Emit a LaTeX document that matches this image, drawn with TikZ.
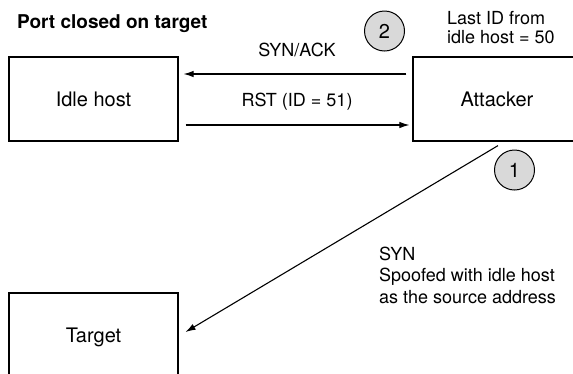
\documentclass[tikz,border=0pt]{standalone}
\usepackage{fontspec}
\setmainfont{TeX Gyre Heros}
\usetikzlibrary{arrows.meta}
\begin{document}
\begin{tikzpicture}[x=1pt,y=-1pt,
  box/.style={draw,line width=1.2pt,minimum width=169pt,inner sep=0pt,font=\fontsize{20}{24}\selectfont},
  arr/.style={line width=1.1pt,-{Latex[length=10pt,width=6.5pt]}},
  lbl/.style={font=\fontsize{18}{21.5}\selectfont,inner sep=0pt},
  num/.style={circle,draw,line width=1pt,fill=gray!30,minimum size=40pt,inner sep=0pt,font=\fontsize{20}{24}\selectfont}]
\useasboundingbox (0,0) rectangle (573,373);
\node[font=\bfseries\fontsize{19}{22}\selectfont,anchor=base west,inner sep=0pt] (title) at (17,28) {Port closed on target};
\node[box,minimum height=84pt] (idle) at (93.5,99) {Idle host};
\node[box,minimum width=168pt,minimum height=84pt] (att) at (497,99) {Attacker};
\node[box,minimum height=88pt] (tgt) at (93.5,337) {Target};
\node[num] (n2) at (384.5,31) {2};
\node[num] (n1) at (514.5,170) {1};
\node[lbl,anchor=center] (synack) at (297,50) {SYN/ACK};
\node[lbl,anchor=center] (rst) at (297,102) {RST (ID = 51)};
\node[lbl,anchor=base west,align=left] (last) at (447,43) {Last ID from\\[-2.5pt]idle host = 50};
\node[lbl,anchor=base west,align=left] (syn) at (379,303) {SYN\\Spoofed with idle host\\as the source address};
\draw[arr] ([xshift=-6pt,yshift=25pt]att.west) -- ([xshift=5pt,yshift=25pt]idle.east);
\draw[arr] ([xshift=7pt,yshift=-26pt]idle.east) -- ([xshift=-3pt,yshift=-26pt]att.west);
\draw[arr] ([shift={(1pt,-4pt)}]att.south) -- ([shift={(7pt,5pt)}]tgt.east);
\end{tikzpicture}
\end{document}
